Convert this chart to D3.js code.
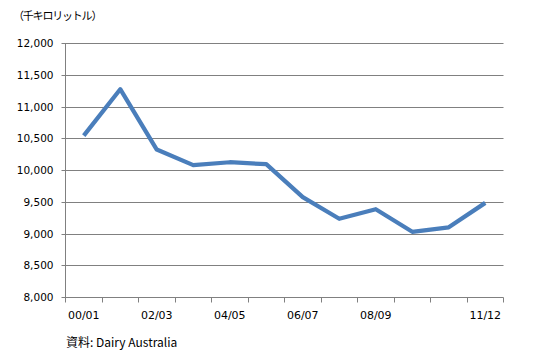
<!DOCTYPE html>
<html>
<head>
<meta charset="utf-8">
<script src="https://cdn.jsdelivr.net/npm/d3@7/dist/d3.min.js"></script>
<style>
	body { margin: 0; background: #fff; }
	svg { display: block; }
	text { fill: #000; }
</style>
</head>
<body>
<svg width="537" height="359"></svg>
<script>
const categories = ['00/01', '01/02', '02/03', '03/04', '04/05', '05/06', '06/07', '07/08', '08/09', '09/10', '10/11', '11/12'];
const values = [10550, 11280, 10330, 10085, 10130, 10100, 9580, 9240, 9390, 9035, 9105, 9490];
const yTicks = [8000, 8500, 9000, 9500, 10000, 10500, 11000, 11500, 12000];
const shownLabels = ['00/01', '02/03', '04/05', '06/07', '08/09', '11/12'];

const svg = d3.select('svg');
const margin = {top: 43.5, right: 33.5, bottom: 61.5, left: 65.5};
const width = 537 - margin.left - margin.right;
const height = 359 - margin.top - margin.bottom;

const x = d3.scaleBand().domain(categories).range([0, width]);
const y = d3.scaleLinear().domain([8000, 12000]).range([height, 0]);

const g = svg.append('g')
	.attr('transform', 'translate(' + margin.left + ',' + margin.top + ')');

// gridlines
g.append('g')
	.selectAll('line')
	.data(yTicks)
	.join('line')
	.attr('x1', -4)
	.attr('x2', width)
	.attr('y1', d => Math.round(y(d)))
	.attr('y2', d => Math.round(y(d)))
	.attr('stroke', '#808080')
	.attr('stroke-width', 1);

// y labels
g.append('g')
	.selectAll('text')
	.data(yTicks)
	.join('text')
	.attr('x', -12)
	.attr('y', d => y(d))
	.attr('dy', '0.35em')
	.attr('text-anchor', 'end')
	.style('font-family', 'DejaVu Sans')
	.style('font-size', '10.5px')
	.text(d3.format(','));

// y axis line
g.append('line')
	.attr('x1', 0).attr('x2', 0)
	.attr('y1', 0).attr('y2', height)
	.attr('stroke', '#808080');

// x tick marks at band boundaries
const bounds = categories.map(c => x(c)).concat([x(categories[categories.length - 1]) + x.bandwidth()]);
g.append('g')
	.selectAll('line')
	.data(bounds)
	.join('line')
	.attr('x1', d => Math.round(d))
	.attr('x2', d => Math.round(d))
	.attr('y1', height)
	.attr('y2', height + 5)
	.attr('stroke', '#808080');

// x labels
g.append('g')
	.selectAll('text')
	.data(shownLabels)
	.join('text')
	.attr('x', d => x(d) + x.bandwidth() / 2)
	.attr('y', height + 18)
	.attr('dy', '0.35em')
	.attr('text-anchor', 'middle')
	.style('font-family', 'DejaVu Sans')
	.style('font-size', '11px')
	.text(d => d);

const line = d3.line()
	.x((d, i) => x(categories[i]) + x.bandwidth() / 2)
	.y(d => y(d));

g.append('path')
	.datum(values)
	.attr('d', line)
	.attr('fill', 'none')
	.attr('stroke', '#4a7ebb')
	.attr('stroke-width', 4.25)
	.attr('stroke-linejoin', 'round');

svg.append('text')
	.attr('x', 13)
	.attr('y', 16)
	.attr('dy', '0.35em')
	.style('font-family', 'Noto Sans CJK JP')
	.style('font-size', '11px')
	.style('letter-spacing', '-1.2px')
	.text('（千キロリットル）');

svg.append('text')
	.attr('x', 66)
	.attr('y', 343)
	.attr('dy', '0.35em')
	.style('font-family', 'Noto Sans CJK JP')
	.style('font-size', '12px')
	.text('資料: Dairy Australia');
</script>
</body>
</html>
